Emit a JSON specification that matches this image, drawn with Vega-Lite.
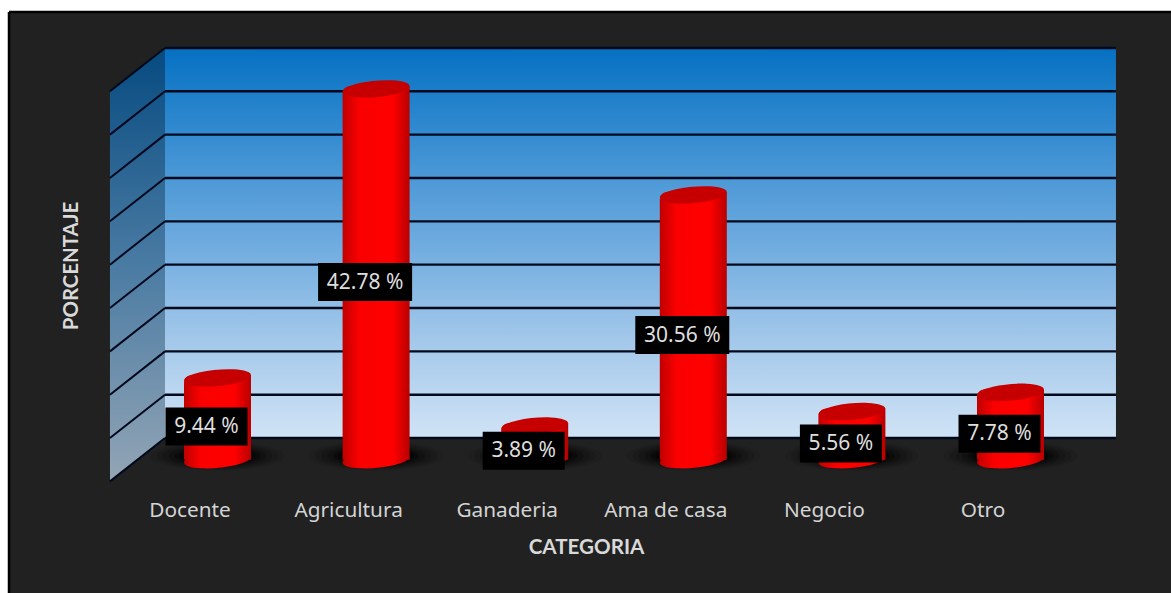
{
  "$schema": "https://vega.github.io/schema/vega-lite/v6.json",
  "width": 1162,
  "height": 581,
  "autosize": "none",
  "padding": {"left": 9, "top": 12, "right": 0, "bottom": 0},
  "background": "white",
  "view": {"fill": "#212121", "stroke": null},
  "datasets": {
    "jobs": [
      {"idx": 0, "categoria": "Docente", "porcentaje": 9.44},
      {"idx": 1, "categoria": "Agricultura", "porcentaje": 42.78},
      {"idx": 2, "categoria": "Ganaderia", "porcentaje": 3.89},
      {"idx": 3, "categoria": "Ama de casa", "porcentaje": 30.56},
      {"idx": 4, "categoria": "Negocio", "porcentaje": 5.56},
      {"idx": 5, "categoria": "Otro", "porcentaje": 7.78}
    ],
    "levels": [
      {"level": 0}, {"level": 5}, {"level": 10}, {"level": 15}, {"level": 20},
      {"level": 25}, {"level": 30}, {"level": 35}, {"level": 40}, {"level": 45}
    ],
    "sideWall": [
      {"depth": -0.331, "upper": 45, "lower": 0},
      {"depth": -0.678, "upper": 40, "lower": -5}
    ],
    "one": [{}]
  },
  "layer": [
    {
      "data": {"name": "one"},
      "mark": {
        "type": "rect",
        "fill": {
          "gradient": "linear", "x1": 0, "y1": 0, "x2": 0, "y2": 1,
          "stops": [
            {"offset": 0, "color": "#0570c2"},
            {"offset": 0.25, "color": "#3a8fd2"},
            {"offset": 0.5, "color": "#6fabdf"},
            {"offset": 0.75, "color": "#a3c8ea"},
            {"offset": 1, "color": "#d0e3f6"}
          ]
        }
      },
      "encoding": {
        "x": {
          "datum": -0.331, "type": "quantitative",
          "scale": {"domain": [-1.31463, 6.012], "nice": false, "zero": false, "padding": 0},
          "axis": {
            "orient": "bottom", "offset": -93, "values": [0, 1, 2, 3, 4, 5],
            "labelExpr": "['Docente','Agricultura','Ganaderia','Ama de casa','Negocio','Otro'][datum.value]",
            "labelOffset": -28, "labelPadding": 0, "labelOverlap": false, "labelBound": false, "labelFlush": false,
            "labelFont": "Noto Sans", "labelFontSize": 20.8, "labelColor": "#d4d4d4", "labelBaseline": "top",
            "domain": false, "ticks": false, "grid": false,
            "title": "CATEGORIA", "titleFont": "Lato", "titleFontSize": 20.6, "titleFontWeight": "bold", "titleColor": "#d9d9d9",
            "titleX": 577, "titleY": 47, "titleAlign": "center", "titleBaseline": "middle"
          }
        },
        "x2": {"datum": 5.665},
        "y": {
          "datum": 45, "type": "quantitative",
          "scale": {"domain": [-17.88, 49.15], "nice": false, "zero": false},
          "axis": {
            "orient": "left", "labels": false, "domain": false, "ticks": false, "grid": false,
            "title": "PORCENTAJE", "titleFont": "Lato", "titleFontSize": 20.4, "titleFontWeight": "bold", "titleColor": "#d9d9d9",
            "titleX": 62, "titleY": 253.5, "titleAlign": "center", "titleBaseline": "middle", "titleAngle": -90
          }
        },
        "y2": {"datum": 0}
      }
    },
    {
      "data": {"name": "sideWall"},
      "mark": {
        "type": "area",
        "line": false,
        "fill": {
          "gradient": "linear", "x1": 0, "y1": 0, "x2": 0, "y2": 1,
          "stops": [
            {"offset": 0, "color": "#064a80"},
            {"offset": 0.5, "color": "#4a7ba3"},
            {"offset": 1, "color": "#93a5b5"}
          ]
        }
      },
      "encoding": {
        "x": {"field": "depth", "type": "quantitative"},
        "y": {"field": "upper", "type": "quantitative"},
        "y2": {"field": "lower"}
      }
    },
    {
      "data": {"name": "levels"},
      "mark": {"type": "rule", "stroke": "#00081c", "strokeWidth": 2.4},
      "encoding": {
        "x": {"datum": -0.331, "type": "quantitative"},
        "x2": {"datum": 5.665},
        "y": {"field": "level", "type": "quantitative"}
      }
    },
    {
      "data": {"name": "levels"},
      "mark": {"type": "rule", "stroke": "#00081c", "strokeWidth": 2, "y2Offset": 43.35},
      "encoding": {
        "x": {"datum": -0.331, "type": "quantitative"},
        "x2": {"datum": -0.678},
        "y": {"field": "level", "type": "quantitative"},
        "y2": {"field": "level"}
      }
    },
    {
      "data": {"name": "one"},
      "mark": {"type": "rule", "stroke": "#000000", "strokeWidth": 2.5},
      "encoding": {"x": {"datum": -1.31463, "type": "quantitative"}}
    },
    {
      "data": {"name": "one"},
      "mark": {"type": "rule", "stroke": "#000000", "strokeWidth": 2.5},
      "encoding": {"y": {"datum": 49.15, "type": "quantitative"}}
    },
    {
      "data": {"name": "jobs"},
      "encoding": {
        "x": {"field": "idx", "type": "quantitative"},
        "y": {"datum": 0, "type": "quantitative"}
      },
      "layer": [
        {"mark": {"type": "point", "filled": true, "fill": "#000000", "opacity": 0.08, "size": 17956, "yOffset": 18, "shape": "M-1,0 A1,0.22,0,1,1,1,0 A1,0.22,0,1,1,-1,0 Z"}},
        {"mark": {"type": "point", "filled": true, "fill": "#000000", "opacity": 0.1, "size": 14884, "yOffset": 18, "shape": "M-1,0 A1,0.22,0,1,1,1,0 A1,0.22,0,1,1,-1,0 Z"}},
        {"mark": {"type": "point", "filled": true, "fill": "#000000", "opacity": 0.15, "size": 12100, "yOffset": 18, "shape": "M-1,0 A1,0.22,0,1,1,1,0 A1,0.22,0,1,1,-1,0 Z"}},
        {"mark": {"type": "point", "filled": true, "fill": "#000000", "opacity": 0.22, "size": 9604, "yOffset": 18, "shape": "M-1,0 A1,0.22,0,1,1,1,0 A1,0.22,0,1,1,-1,0 Z"}},
        {"mark": {"type": "point", "filled": true, "fill": "#000000", "opacity": 0.3, "size": 7396, "yOffset": 18, "shape": "M-1,0 A1,0.22,0,1,1,1,0 A1,0.22,0,1,1,-1,0 Z"}},
        {"mark": {"type": "point", "filled": true, "fill": "#000000", "opacity": 0.4, "size": 5776, "yOffset": 18, "shape": "M-1,0 A1,0.22,0,1,1,1,0 A1,0.22,0,1,1,-1,0 Z"}}
      ]
    },
    {
      "data": {"name": "jobs"},
      "mark": {
        "type": "point", "filled": true, "opacity": 1, "size": 4489, "yOffset": 21.7,
        "shape": "M-0.996,0.087 A1,0.24,-5,1,1,0.996,-0.087 A1,0.24,-5,1,1,-0.996,0.087 Z",
        "fill": {
          "gradient": "linear", "x1": 0, "y1": 0, "x2": 1, "y2": 0,
          "stops": [
            {"offset": 0, "color": "#c00000"},
            {"offset": 0.25, "color": "#fa0000"},
            {"offset": 0.75, "color": "#ff0000"},
            {"offset": 1, "color": "#b80000"}
          ]
        }
      },
      "encoding": {
        "x": {"field": "idx", "type": "quantitative"},
        "y": {"datum": 0, "type": "quantitative"}
      }
    },
    {
      "data": {"name": "jobs"},
      "mark": {
        "type": "bar", "width": 67, "yOffset": 18.7, "y2Offset": 21.7, "cornerRadiusTopLeft": 8,
        "fill": {
          "gradient": "linear", "x1": 0, "y1": 0, "x2": 1, "y2": 0,
          "stops": [
            {"offset": 0, "color": "#c00000"},
            {"offset": 0.25, "color": "#fa0000"},
            {"offset": 0.75, "color": "#ff0000"},
            {"offset": 1, "color": "#b80000"}
          ]
        }
      },
      "encoding": {
        "x": {"field": "idx", "type": "quantitative"},
        "y": {"field": "porcentaje", "type": "quantitative"},
        "y2": {"datum": 0}
      }
    },
    {
      "data": {"name": "jobs"},
      "mark": {
        "type": "point", "filled": true, "opacity": 1, "size": 4489, "yOffset": 21.7, "fill": "#c60000",
        "shape": "M-0.996,0.087 A1,0.24,-5,1,1,0.996,-0.087 A1,0.24,-5,1,1,-0.996,0.087 Z"
      },
      "encoding": {
        "x": {"field": "idx", "type": "quantitative"},
        "y": {"field": "porcentaje", "type": "quantitative"}
      }
    },
    {
      "data": {"name": "jobs"},
      "transform": [
        {"calculate": "datum.porcentaje / 2", "as": "mitad"},
        {"calculate": "format(datum.porcentaje, '.2f') + ' %'", "as": "etiqueta"}
      ],
      "layer": [
        {
          "mark": {"type": "bar", "xOffset": -11, "yOffset": 10.5, "y2Offset": 48.5, "fill": "#000000"},
          "encoding": {
            "x": {"field": "idx", "type": "quantitative"},
            "y": {"field": "mitad", "type": "quantitative"},
            "y2": {"field": "mitad"},
            "size": {"condition": {"test": "datum.porcentaje >= 10", "value": 94}, "value": 82}
          }
        },
        {
          "mark": {"type": "text", "xOffset": -11, "yOffset": 30, "font": "Noto Sans", "fontSize": 21, "fill": "#dedede", "align": "center", "baseline": "middle"},
          "encoding": {
            "x": {"field": "idx", "type": "quantitative"},
            "y": {"field": "mitad", "type": "quantitative"},
            "text": {"field": "etiqueta", "type": "nominal"}
          }
        }
      ]
    }
  ]
}
